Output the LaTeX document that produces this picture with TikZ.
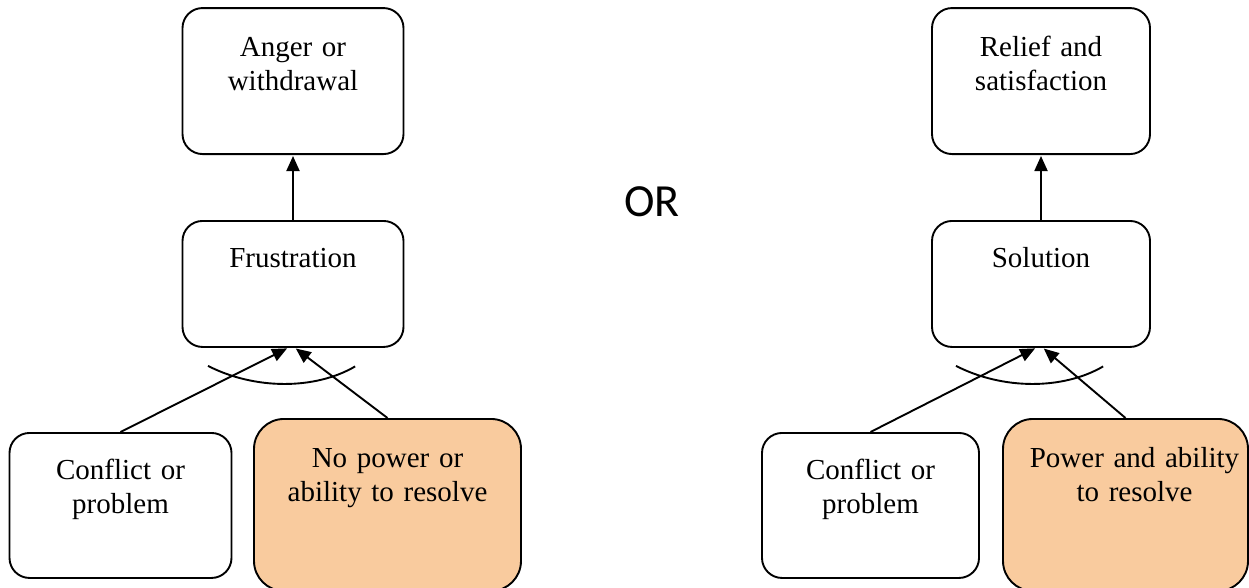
\documentclass[tikz,border=0pt]{standalone}
\usepackage{fontspec}
\setmainfont{Liberation Serif}
\newfontfamily\orfont{Carlito}
\usetikzlibrary{arrows.meta,positioning}
\definecolor{peach}{RGB}{249,203,158}

\begin{document}
\begin{tikzpicture}[x=1pt,y=-1pt,->,>={Triangle[length=15pt,width=13pt]},shorten >=1pt,
        line width=1.9pt,main node/.style={draw,rounded corners=20pt,align=center,inner sep=0pt,
        text height=48pt,font=\fontsize{29}{34}\selectfont},
        power node/.style={main node,fill=peach,rounded corners=30pt,text height=49pt,text depth=123pt}]
        \clip (0,0) rectangle (1249,587);

        % left: frustration
        \node[main node,text width=221pt,text height=47pt,text depth=79pt,anchor=north] (frus) at (293,220) {Frustration};
        \node[main node,text width=221pt,text depth=98pt] (anger) [above=65pt of frus] {Anger or\\withdrawal};
        \node[main node,text width=222pt,text height=47pt,text depth=98pt,anchor=north] (confl) at (120.5,432) {Conflict or\\problem};
        \node[power node,text width=267pt,anchor=north] (nopower) at (387.5,418) {No power or\\ability to resolve};

        % right: solution
        \node[main node,text width=218pt,text height=47pt,text depth=79pt,anchor=north] (sol) at (1041,220) {Solution};
        \node[main node,text width=218pt,text depth=98pt] (relief) [above=65pt of sol] {Relief and\\satisfaction};
        \node[main node,text width=217pt,text height=47pt,text depth=98pt,anchor=north] (confr) at (870.5,432) {Conflict or\\problem};
        \node[power node,text width=245pt,anchor=north] (power) at (1125.5,418) {\hspace*{18pt}Power and ability\\\hspace*{18pt}to resolve};

        \node[font=\orfont\fontsize{46}{46}\selectfont] (or) at (652,202) {OR};

        \coordinate (fl) at ([xshift=-5pt]frus.south);
        \coordinate (fr) at ([xshift=2pt]frus.south);
        \coordinate (sl) at ([xshift=-5pt]sol.south);
        \coordinate (sr) at ([xshift=2pt]sol.south);

        \path
        (frus) edge (anger)
        (confl.north) edge (fl)
        (nopower.north) edge (fr)
        (sol) edge (relief)
        (confr.north) edge (sl)
        (power.north) edge (sr);

        % the two causes joined
        \draw[-] ([shift={(-85,18)}]frus.south) .. controls ([shift={(-38,42)}]frus.south) and ([shift={(22,42)}]frus.south) .. ([shift={(63,18)}]frus.south);
        \draw[-] ([shift={(-85,18)}]sol.south) .. controls ([shift={(-38,42)}]sol.south) and ([shift={(22,42)}]sol.south) .. ([shift={(63,18)}]sol.south);
      \end{tikzpicture}
\end{document}
